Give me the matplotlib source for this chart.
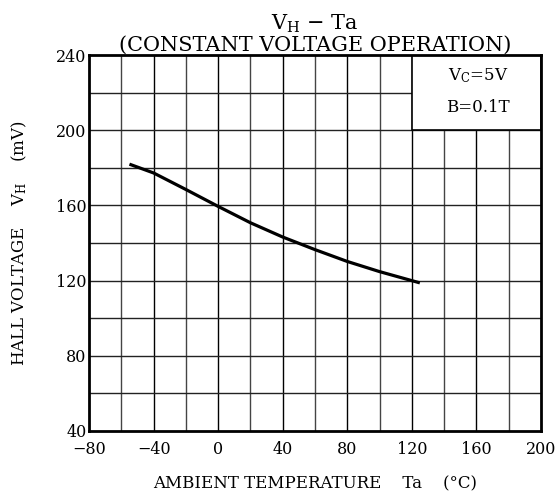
import matplotlib
matplotlib.use("Agg")
import matplotlib.pyplot as plt
import matplotlib.patches as patches

# curve (Ta in degC, VH in mV)
temp = [-55, -40, -20, 0, 20, 40, 60, 80, 100, 120, 125]
vh = [182, 177.3, 168.5, 159.5, 150.8, 143.2, 136.5, 130.2, 124.8, 120.0, 118.8]

x_ticks = [-80, -40, 0, 40, 80, 120, 160, 200]
y_ticks = [40, 80, 120, 160, 200, 240]
x_ticklabels = ["\u221280", "\u221240", "0", "40", "80", "120", "160", "200"]

plt.rcParams["font.family"] = "DejaVu Serif"
plt.rcParams["mathtext.fontset"] = "dejavuserif"

fig = plt.figure(figsize=(5.57, 4.93), dpi=100)
ax = fig.add_axes([0.160, 0.126, 0.811, 0.762])
ax.set_xlim(-80, 200)
ax.set_ylim(40, 240)

# grid every 20 in both directions
for gx in range(-60, 200, 20):
    c = "black" if gx % 40 == 0 else "#444444"
    ax.axvline(gx, color=c, lw=1.0, zorder=1)
for gy in range(60, 240, 20):
    ax.axhline(gy, color="#222222", lw=1.0, zorder=1)

# condition box in the upper right corner
ax.add_patch(patches.Rectangle((120, 200), 80, 40, facecolor="white",
                               edgecolor="black", lw=1.2, zorder=2))
ax.text(161, 229, r"V$_\mathrm{C}$=5V", ha="center", va="center", fontsize=12, zorder=3)
ax.text(161, 212, "B=0.1T", ha="center", va="center", fontsize=12, zorder=3)

ax.plot(temp, vh, color="black", lw=2.3, zorder=4, solid_capstyle="butt")

ax.set_xticks(x_ticks)
ax.set_xticklabels(x_ticklabels)
ax.set_yticks(y_ticks)
ax.tick_params(length=0, labelsize=11.5)
ax.tick_params(axis="y", pad=2)
ax.tick_params(axis="x", pad=7)
for s in ax.spines.values():
    s.set_linewidth(2)
    s.set_zorder(5)

ax.set_title("V$_\\mathrm{H}$ \u2212 Ta\n(CONSTANT VOLTAGE OPERATION)",
             fontsize=15, linespacing=1.05, pad=3)
ax.set_xlabel("AMBIENT TEMPERATURE    Ta    (\u00b0C)", fontsize=12, labelpad=13)
ax.set_ylabel("HALL VOLTAGE    V$_\\mathrm{H}$    (mV)", fontsize=12, labelpad=19)

fig.savefig("out.png", dpi=100)
